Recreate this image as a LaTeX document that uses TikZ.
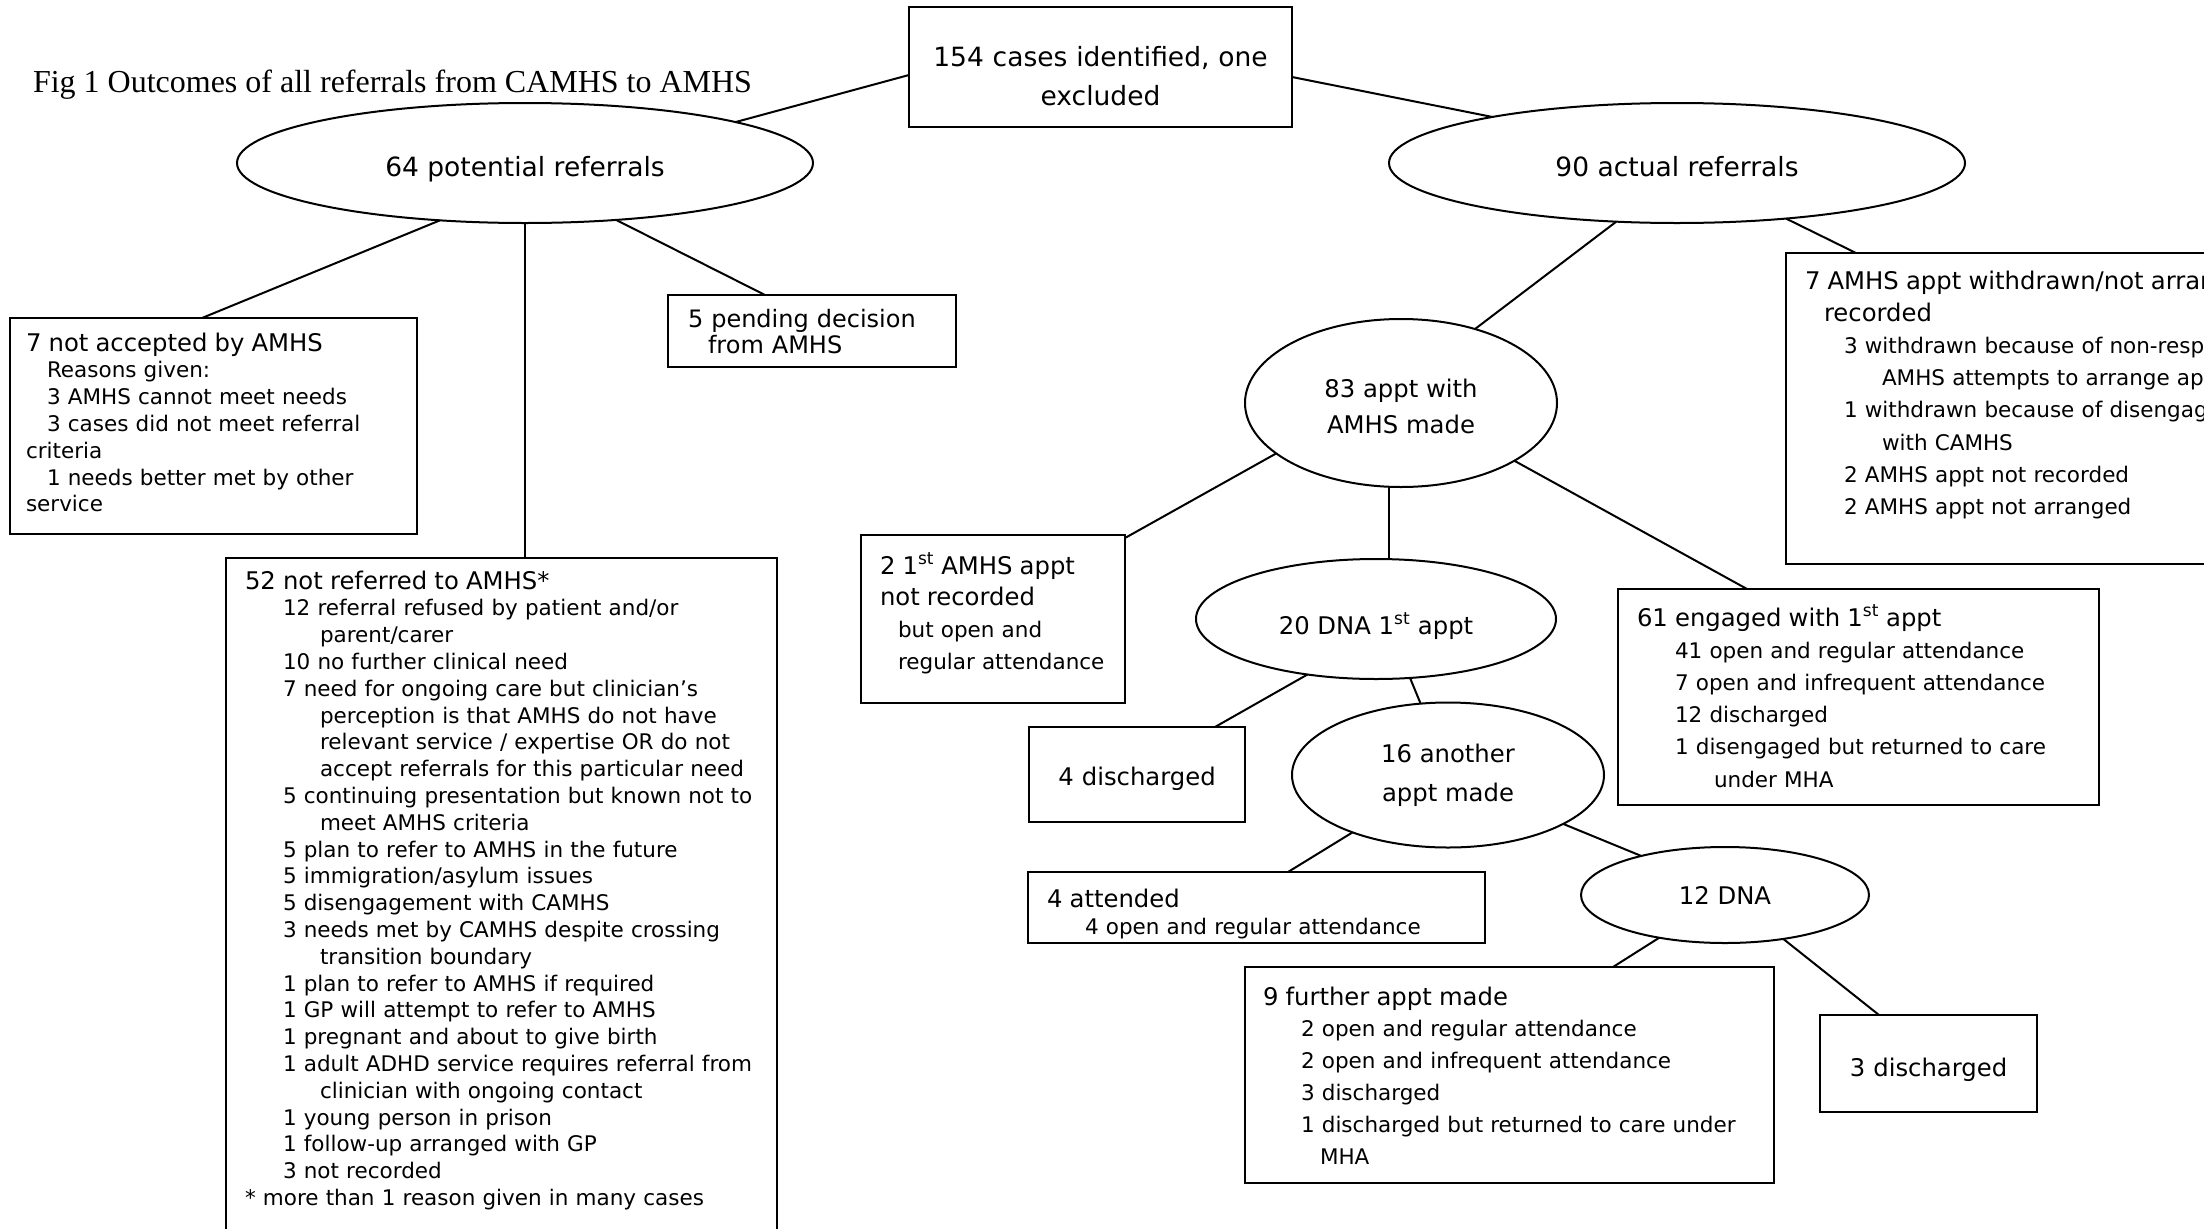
\documentclass[tikz,border=0pt]{standalone}
\usepackage{fontspec}
\setmainfont{DejaVu Sans}
\newfontfamily\figfont{Liberation Serif}
\usetikzlibrary{shapes.geometric}

\newcommand{\fB}{\fontsize{24.3}{32}\selectfont}

\tikzset{
  box/.style={draw, rectangle, anchor=north west, inner ysep=0pt, inner xsep=19pt, outer sep=0pt, align=left},
  oval/.style={draw, ellipse, inner sep=0pt, outer sep=0pt, align=center},
}

\begin{document}
\begin{tikzpicture}[x=1pt, y=-1pt, line width=2pt]
    \useasboundingbox (0,0) rectangle (2204,1229);
    \clip (0,0) rectangle (2204,1229);

    \node[anchor=base west, inner sep=0pt, font=\figfont\fontsize{32}{36}\selectfont] (title) at (32,92) {Fig 1 Outcomes of all referrals from CAMHS to AMHS};

    % top level
    \node[box, align=center, inner xsep=15pt, text width=353pt, text height=59pt, text depth=61pt, font=\fontsize{26.5}{39}\selectfont] (b154) at (909,7) {154 cases identified, one\\excluded};
    \node[oval, minimum width=576pt, minimum height=120pt, text height=32pt, text depth=6pt, font=\fontsize{26.5}{39}\selectfont] (e64) at (525,163) {64 potential referrals};
    \node[oval, minimum width=576pt, minimum height=120pt, text height=32pt, text depth=6pt, font=\fontsize{26.5}{39}\selectfont] (e90) at (1677,163) {90 actual referrals};

    % potential referrals
    \node[box, inner xsep=16pt, text width=375pt, text height=33pt, text depth=183pt, font=\fontsize{21.5}{26.8}\selectfont] (notacc) at (10,318) {
        {\fB 7 not accepted by AMHS}\\
        \hspace*{21pt}Reasons given:\\
        \hspace*{21pt}3 AMHS cannot meet needs\\
        \hspace*{21pt}3 cases did not meet referral\\
        criteria\\
        \hspace*{21pt}1 needs better met by other\\
        service};
    \node[box, inner xsep=20pt, text width=248pt, text height=32pt, text depth=40pt, font=\fontsize{24}{26.5}\selectfont] (pend) at (668,295) {
        5 pending decision\\
        \hspace*{20pt}from AMHS};
    \node[box, text width=513pt, text height=31pt, text depth=671pt, font=\fontsize{21.5}{26.8}\selectfont] (b52) at (226,558) {
        {\fB 52 not referred to AMHS*}\\
        \hspace*{38pt}12 referral refused by patient and/or\\
        \hspace*{75pt}parent/carer\\
        \hspace*{38pt}10 no further clinical need\\
        \hspace*{38pt}7 need for ongoing care but clinician’s\\
        \hspace*{75pt}perception is that AMHS do not have\\
        \hspace*{75pt}relevant service / expertise OR do not\\
        \hspace*{75pt}accept referrals for this particular need\\
        \hspace*{38pt}5 continuing presentation but known not to\\
        \hspace*{75pt}meet AMHS criteria\\
        \hspace*{38pt}5 plan to refer to AMHS in the future\\
        \hspace*{38pt}5 immigration/asylum issues\\
        \hspace*{38pt}5 disengagement with CAMHS\\
        \hspace*{38pt}3 needs met by CAMHS despite crossing\\
        \hspace*{75pt}transition boundary\\
        \hspace*{38pt}1 plan to refer to AMHS if required\\
        \hspace*{38pt}1 GP will attempt to refer to AMHS\\
        \hspace*{38pt}1 pregnant and about to give birth\\
        \hspace*{38pt}1 adult ADHD service requires referral from\\
        \hspace*{75pt}clinician with ongoing contact\\
        \hspace*{38pt}1 young person in prison\\
        \hspace*{38pt}1 follow-up arranged with GP\\
        \hspace*{38pt}3 not recorded\\
        {*} more than 1 reason given in many cases};

    % actual referrals
    \node[box, text width=576pt, text height=36pt, text depth=275pt, font=\fontsize{21.5}{32.2}\selectfont] (wdr) at (1786,253) {
        {\fB 7 AMHS appt withdrawn/not arranged/not}\\
        {\fB\hspace*{19pt}recorded}\\
        \hspace*{39pt}3 withdrawn because of non-response to\\
        \hspace*{77pt}AMHS attempts to arrange appt\\
        \hspace*{39pt}1 withdrawn because of disengagement\\
        \hspace*{77pt}with CAMHS\\
        \hspace*{39pt}2 AMHS appt not recorded\\
        \hspace*{39pt}2 AMHS appt not arranged};
    \node[oval, minimum width=312pt, minimum height=168pt, text height=67pt, text depth=6pt, font=\fontsize{24.3}{36}\selectfont] (e83) at (1401,403) {83 appt with\\AMHS made};
    \node[box, inner xsep=12pt, text width=240pt, text height=39pt, text depth=129pt, font=\fontsize{21.5}{31.7}\selectfont] (b2) at (861,535) {
        {\fB\hspace*{7pt}2 1\textsuperscript{st} AMHS appt}\\
        {\fB\hspace*{7pt}not recorded}\\
        \hspace*{25pt}but open and\\
        \hspace*{25pt}regular attendance};
    \node[oval, minimum width=360pt, minimum height=120pt, text height=36pt, text depth=6pt, font=\fB] (e20) at (1376,619) {20 DNA 1\textsuperscript{st} appt};
    \node[box, text width=443pt, text height=37pt, text depth=179pt, font=\fontsize{21.5}{32.2}\selectfont] (b61) at (1618,589) {
        {\fB 61 engaged with 1\textsuperscript{st} appt}\\
        \hspace*{38pt}41 open and regular attendance\\
        \hspace*{38pt}7 open and infrequent attendance\\
        \hspace*{38pt}12 discharged\\
        \hspace*{38pt}1 disengaged but returned to care\\
        \hspace*{77pt}under MHA};
    \node[box, align=center, inner xsep=10pt, text width=196pt, text height=58pt, text depth=37pt, font=\fB] (b4d) at (1029,727) {4 discharged};
    \node[oval, minimum width=312pt, minimum height=145pt, font=\fontsize{24.3}{39}\selectfont] (e16) at (1448,775) {16 another\\appt made};
    \node[box, text width=419pt, text height=35pt, text depth=36pt, font=\fontsize{21.5}{27}\selectfont] (b4a) at (1028,872) {
        {\fB 4 attended}\\
        \hspace*{38pt}4 open and regular attendance};
    \node[oval, minimum width=288pt, minimum height=96pt, font=\fB] (e12) at (1725,895) {12 DNA};
    \node[box, inner xsep=18pt, text width=493pt, text height=38pt, text depth=178pt, font=\fontsize{21.5}{31.9}\selectfont] (b9) at (1245,967) {
        {\fB 9 further appt made}\\
        \hspace*{38pt}2 open and regular attendance\\
        \hspace*{38pt}2 open and infrequent attendance\\
        \hspace*{38pt}3 discharged\\
        \hspace*{38pt}1 discharged but returned to care under\\
        \hspace*{57pt}MHA};
    \node[box, align=center, inner xsep=10pt, text width=197pt, text height=61pt, text depth=36pt, font=\fB] (b3d) at (1820,1015) {3 discharged};

    % connectors
    \draw ([yshift=-8pt]b154.west) -- (e64.11);
    \draw ([yshift=-10pt]b154.east) -- (e90.166);
    \draw (e64.214) -- ([xshift=192pt]notacc.north west);
    \draw (e64.south) -- (e64.south |- b52.north);
    \draw (e64.328) -- ([xshift=97pt]pend.north west);
    \draw (e90.224) -- (e83.45);
    \draw (e90.333) -- ([xshift=70pt]wdr.north west);
    \draw (e83.202) -- ([yshift=-3pt]b2.north east);
    \draw ([xshift=-12pt]e83.south) -- ([xshift=13pt]e20.north);
    \draw (e83.333) -- ([xshift=129pt]b61.north west);
    \draw (e20.219) -- ([xshift=186pt]b4d.north west);
    \draw (e20.300) -- (e16.111);
    \draw (e16.211) -- ([xshift=260pt]b4a.north west);
    \draw (e16.337) -- (e12.155);
    \draw (e12.213) -- ([xshift=368pt]b9.north west);
    \draw (e12.323) -- ([xshift=59pt]b3d.north west);
\end{tikzpicture}
\end{document}
